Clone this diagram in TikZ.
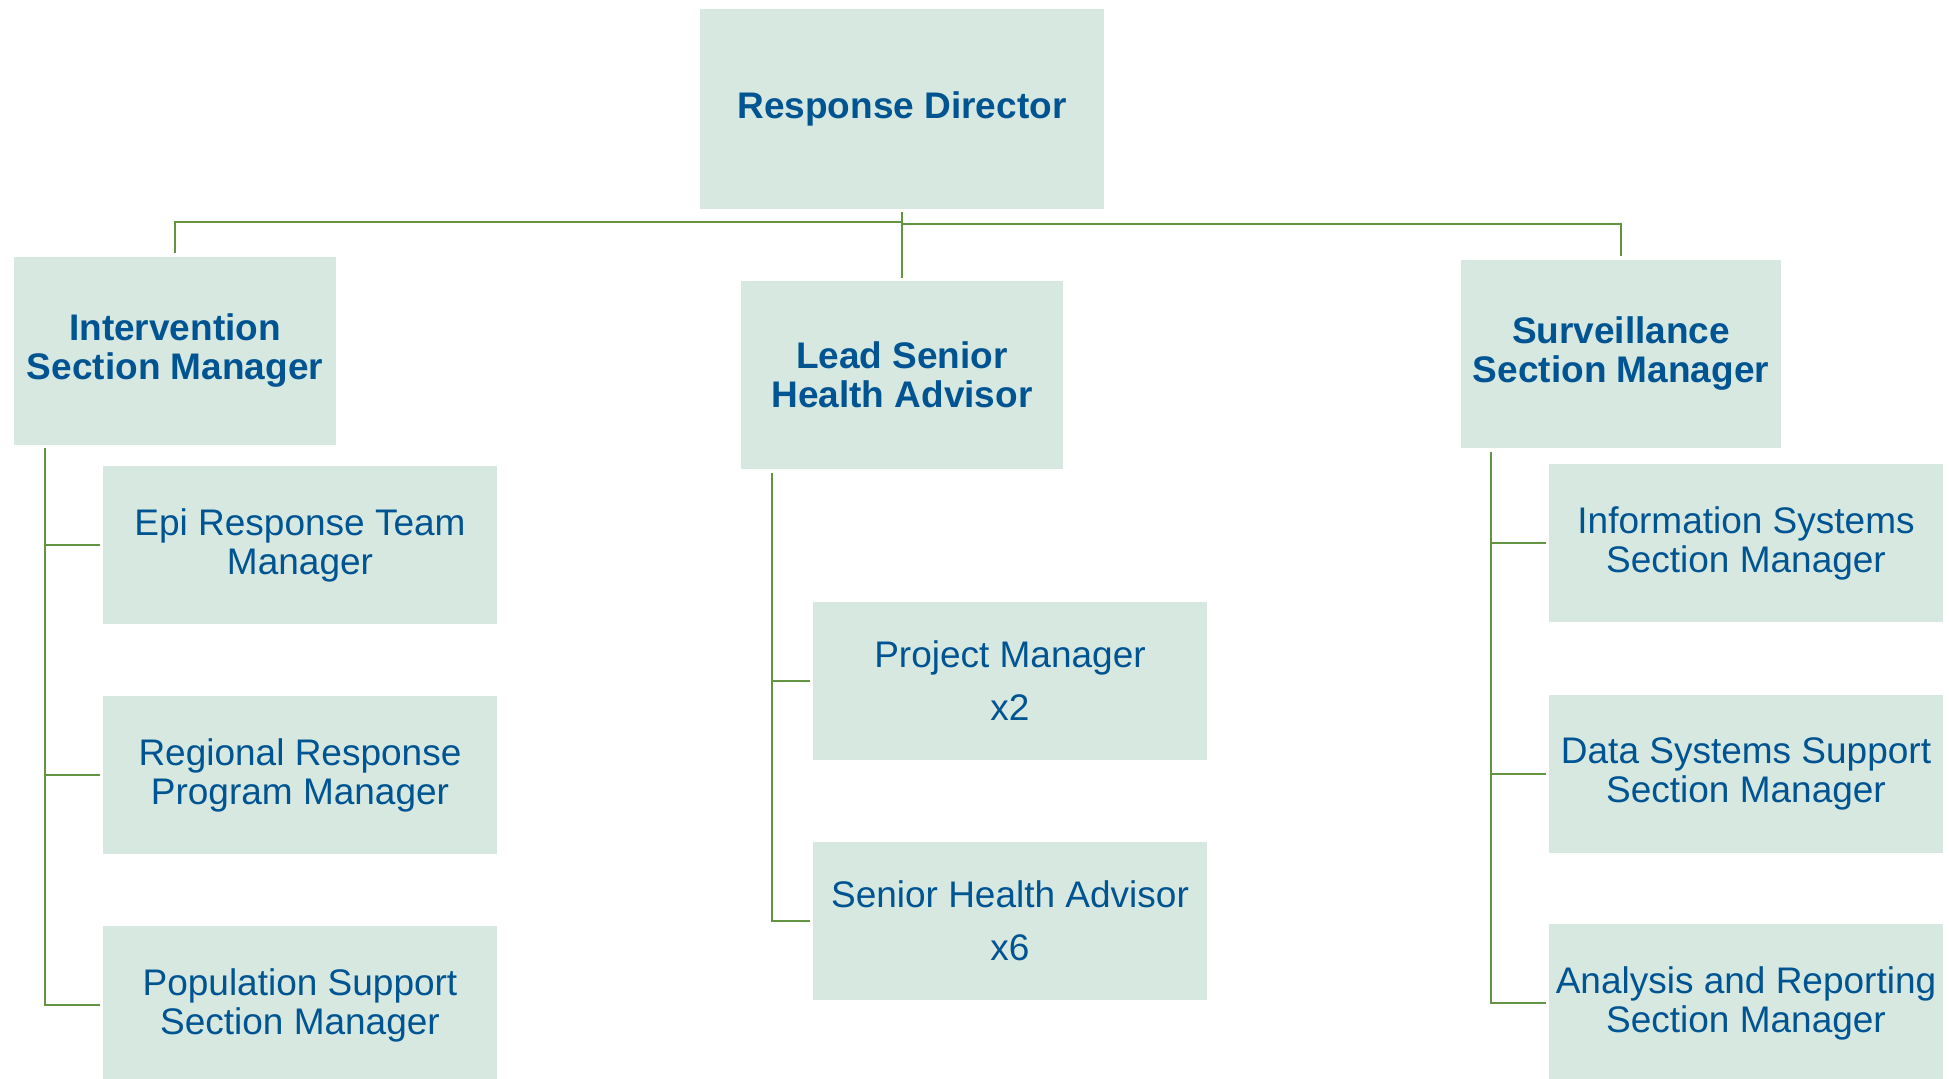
\documentclass[tikz,border=0pt]{standalone}
\usepackage{fontspec}
\setmainfont{Liberation Sans}
\usepackage{tikz}
\usetikzlibrary{positioning}

\definecolor{boxfill}{RGB}{214,232,224}
\definecolor{linegreen}{RGB}{98,148,66}
\definecolor{textblue}{RGB}{0,84,146}

\tikzset{
  orgbox/.style={fill=boxfill, draw=none, inner sep=0pt, align=center, text=textblue,
    minimum width=197pt, minimum height=79pt, font=\fontsize{18.5}{19.5}\selectfont},
  headbox/.style={orgbox, minimum width=161pt, minimum height=94pt,
    font=\fontsize{18.5}{19.5}\selectfont\bfseries},
  topbox/.style={headbox, minimum width=202pt, minimum height=100pt},
  conn/.style={draw=linegreen, line width=1.35pt},
}

\begin{document}
\begin{tikzpicture}[x=0.5pt,y=-0.5pt]
 \clip (0,0) rectangle (1949,1079);
 \fill[white] (0,0) rectangle (1949,1079);

  \draw (902,109) node[topbox] (dir) {Response Director};

  \draw (175,351) node[headbox] (inter) {Intervention\\Section Manager};
  \draw (902,375) node[headbox] (lead) {Lead Senior\\Health Advisor};
  \draw (1621,354) node[headbox, minimum width=160pt] (surv) {Surveillance\\Section Manager};

    \draw (300,545) node[orgbox] (epi) {Epi Response Team\\Manager};
    \draw (300,775) node[orgbox] (reg) {Regional Response\\Program Manager};
    \draw (300,1005) node[orgbox] (pop) {Population Support\\Section Manager};

    \draw (1010,681) node[orgbox] (proj) {Project Manager\\[7pt]x2};
    \draw (1010,921) node[orgbox] (sha) {Senior Health Advisor\\[7pt]x6};

    \draw (1746,543) node[orgbox] (info) {Information Systems\\Section Manager};
    \draw (1746,774) node[orgbox] (data) {Data Systems Support\\Section Manager};
    \draw (1746,1003) node[orgbox] (ana) {Analysis and Reporting\\Section Manager};

  % top level
  \coordinate (busL) at (902,222);
  \coordinate (busR) at (902,224);
  \draw[conn, shorten <=2pt] (inter.north) |- (busL);
  \draw[conn, shorten <=2pt] (surv.north) |- (busR);
  \draw[conn, shorten <=1.5pt, shorten >=1.5pt] (dir) -- (lead);

  % sub levels
  \coordinate (trunkI) at (45,448);
  \coordinate (trunkL) at (772,473);
  \coordinate (trunkS) at (1491,452);
  \foreach \b in {epi,reg,pop} {
     \draw[conn, shorten >=1.5pt] (trunkI) |- (\b.west);
  }
  \foreach \b in {proj,sha} {
     \draw[conn, shorten >=1.5pt] (trunkL) |- (\b.west);
  }
  \foreach \b in {info,data,ana} {
     \draw[conn, shorten >=1.5pt] (trunkS) |- (\b.west);
  }
\end{tikzpicture}
\end{document}
